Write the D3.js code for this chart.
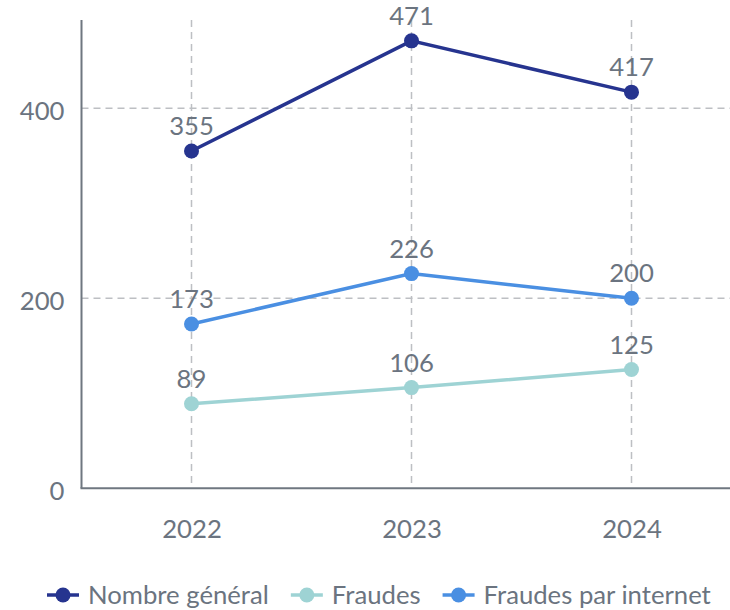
<!DOCTYPE html>
<html>
<head>
<meta charset="utf-8">
<script src="https://cdn.jsdelivr.net/npm/d3@7"></script>
<style>
  body { margin: 0; background: #fff; }
  text { font-family: Lato, "Open Sans", sans-serif; fill: #6b7480; }
</style>
</head>
<body>
<div id="chart-area"></div>
<script>
const years = ['2022', '2023', '2024']
const seriesNames = ['Nombre général', 'Fraudes', 'Fraudes par internet']
const nombreGeneral = [355, 471, 417]
const fraudes = [89, 106, 125]
const fraudesInternet = [173, 226, 200]
const yTicks = [0, 200, 400]
const colors = ['#26348f', '#9ed3d4', '#4a8fe2']

const WIDTH = 730
const HEIGHT = 610
const MARGIN = { LEFT: 81.5, TOP: 20, BOTTOM: 488.3 }
const FONT = '25.7px'

const svg = d3.select('#chart-area').append('svg')
  .attr('width', WIDTH)
  .attr('height', HEIGHT)

const x = d3.scalePoint()
  .domain(years)
  .range([191.5, 631.5])

const y = d3.scaleLinear()
  .domain([0, 471 * 1.05])
  .range([MARGIN.BOTTOM, MARGIN.BOTTOM - 471 * 1.05 * 0.95])

// grid
svg.append('g').selectAll('line.h')
  .data(yTicks.filter(d => d > 0))
  .enter().append('line')
  .attr('x1', MARGIN.LEFT).attr('x2', WIDTH)
  .attr('y1', d => y(d)).attr('y2', d => y(d))
  .attr('stroke', '#bdbfc3').attr('stroke-width', 1.5)
  .attr('stroke-dasharray', '7,5')

svg.append('g').selectAll('line.v')
  .data(years)
  .enter().append('line')
  .attr('x1', d => x(d)).attr('x2', d => x(d))
  .attr('y1', MARGIN.TOP).attr('y2', MARGIN.BOTTOM)
  .attr('stroke', '#bdbfc3').attr('stroke-width', 1.5)
  .attr('stroke-dasharray', '7,5')

// axes
const yAxisCall = d3.axisLeft(y).tickValues(yTicks).tickSize(0).tickPadding(17)
const yAxis = svg.append('g')
  .attr('transform', `translate(${MARGIN.LEFT}, 0)`)
  .call(yAxisCall)
yAxis.select('.domain').remove()
yAxis.selectAll('text').attr('font-size', FONT).attr('dy', '0.45em')

const xAxisCall = d3.axisBottom(x).tickSize(0).tickPadding(31)
const xAxis = svg.append('g')
  .attr('transform', `translate(0, ${MARGIN.BOTTOM})`)
  .call(xAxisCall)
xAxis.select('.domain').remove()
xAxis.selectAll('text').attr('font-size', FONT)

svg.append('line')
  .attr('x1', MARGIN.LEFT).attr('x2', MARGIN.LEFT)
  .attr('y1', MARGIN.TOP).attr('y2', MARGIN.BOTTOM)
  .attr('stroke', '#6f7780').attr('stroke-width', 2)
svg.append('line')
  .attr('x1', MARGIN.LEFT - 1).attr('x2', WIDTH)
  .attr('y1', MARGIN.BOTTOM).attr('y2', MARGIN.BOTTOM)
  .attr('stroke', '#6f7780').attr('stroke-width', 2)

// series
const allSeries = [nombreGeneral, fraudes, fraudesInternet]
const line = d3.line()
  .x((d, i) => x(years[i]))
  .y(d => y(d))

allSeries.forEach((values, s) => {
  svg.append('path')
    .datum(values)
    .attr('d', line)
    .attr('fill', 'none')
    .attr('stroke', colors[s])
    .attr('stroke-width', 3.5)

  svg.append('g').selectAll('circle')
    .data(values)
    .enter().append('circle')
    .attr('cx', (d, i) => x(years[i]))
    .attr('cy', d => y(d))
    .attr('r', 7.5)
    .attr('fill', colors[s])

  svg.append('g').selectAll('text')
    .data(values)
    .enter().append('text')
    .attr('x', (d, i) => x(years[i]))
    .attr('y', d => y(d) - 16)
    .attr('text-anchor', 'middle')
    .attr('font-size', FONT)
    .text(d => d)
})

// legend
const legend = svg.append('g').attr('transform', 'translate(47, 595)')
let offset = 0
seriesNames.forEach((name, s) => {
  const item = legend.append('g').attr('transform', `translate(${offset}, 0)`)
  item.append('line')
    .attr('x1', 0).attr('x2', 32)
    .attr('stroke', colors[s]).attr('stroke-width', 3.5)
  item.append('circle')
    .attr('cx', 16).attr('r', 7.5)
    .attr('fill', colors[s])
  const label = item.append('text')
    .attr('x', 41)
    .attr('dy', '0.35em')
    .attr('font-size', FONT)
    .text(name)
  offset += 41 + label.node().getComputedTextLength() + 22
})
</script>
</body>
</html>
